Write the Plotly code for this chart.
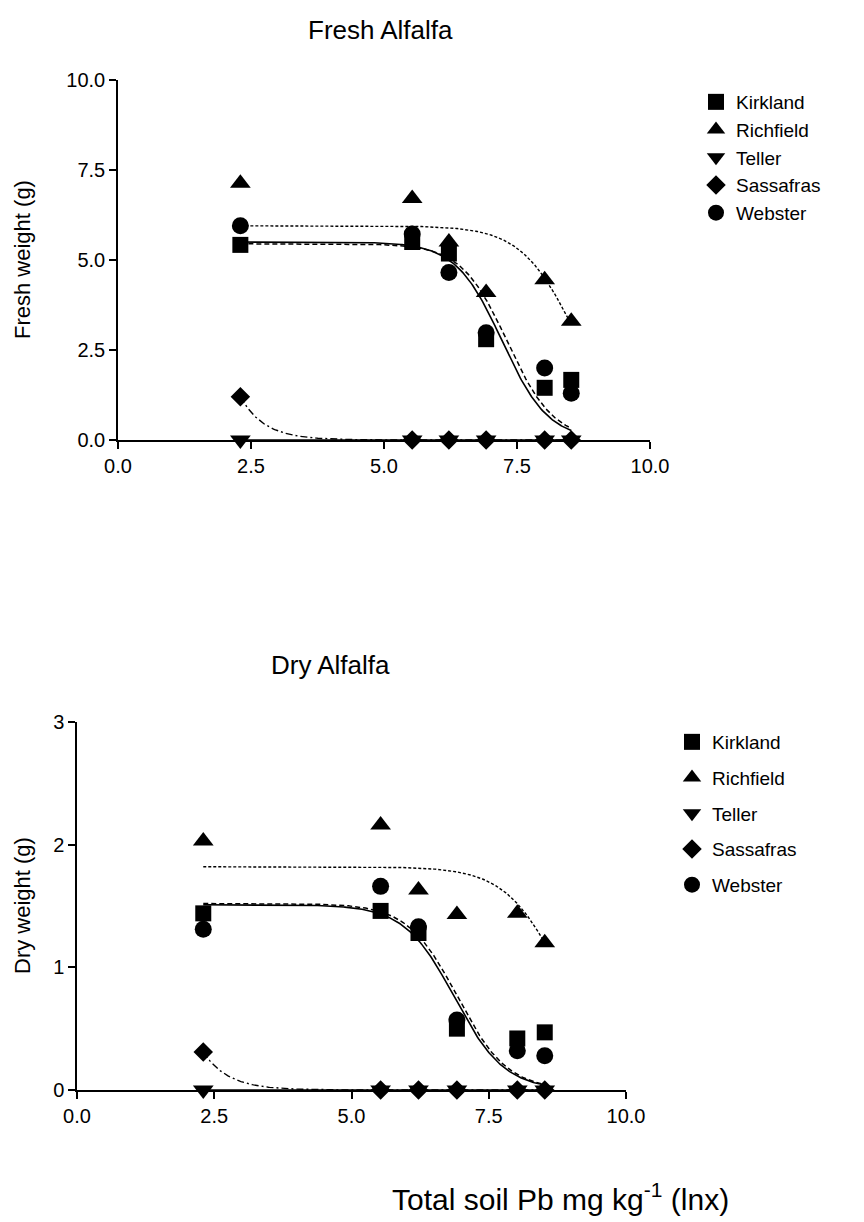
import numpy as np
import plotly.graph_objects as go

# ---------------- data ----------------
soils = ["Kirkland", "Richfield", "Teller", "Sassafras", "Webster"]
x_pb = [2.30, 5.53, 6.22, 6.92, 8.02, 8.52]

fresh_kirkland = [5.42, 5.50, 5.18, 2.80, 1.45, 1.67]
fresh_richfield = [7.13, 6.71, 5.50, 4.10, 4.45, 3.30]
fresh_teller = [0.0, 0.0, 0.0, 0.0, 0.0, 0.0]
fresh_sassafras = [1.20, 0.0, 0.0, 0.0, 0.0, 0.0]
fresh_webster = [5.95, 5.72, 4.65, 2.98, 2.00, 1.30]

dry_kirkland = [1.44, 1.46, 1.28, 0.50, 0.42, 0.47]
dry_richfield = [2.03, 2.16, 1.63, 1.43, 1.44, 1.20]
dry_teller = [0.0, 0.0, 0.0, 0.0, 0.0, 0.0]
dry_sassafras = [0.31, 0.0, 0.0, 0.0, 0.0, 0.0]
dry_webster = [1.31, 1.66, 1.33, 0.57, 0.32, 0.28]

# fitted sigmoid curve parameters: top, x50, slope
fresh_fit_kirkland = [5.50, 7.22, 2.30]
fresh_fit_webster = [5.45, 7.32, 2.30]
fresh_fit_richfield = [5.95, 8.60, 1.95]
fresh_fit_sassafras = [1.20, 2.20]   # start value, decay rate

dry_fit_kirkland = [1.51, 6.875, 2.19]
dry_fit_webster = [1.52, 6.93, 2.20]
dry_fit_richfield = [1.82, 8.86, 1.93]
dry_fit_sassafras = [0.31, 2.20]

x_ticks = [0.0, 2.5, 5.0, 7.5, 10.0]
x_tick_labels = ["0.0", "2.5", "5.0", "7.5", "10.0"]
fresh_y_ticks = [0.0, 2.5, 5.0, 7.5, 10.0]
fresh_y_labels = ["0.0", "2.5", "5.0", "7.5", "10.0"]
dry_y_ticks = [0, 1, 2, 3]
dry_y_labels = ["0", "1", "2", "3"]

# ---------------- helpers ----------------
xs = np.linspace(x_pb[0], x_pb[-1], 300)


def sigmoid(p):
    top, x50, k = p
    return top / (1.0 + np.exp(k * (xs - x50)))


def decay(p):
    y0, k = p
    return y0 * np.exp(-k * (xs - x_pb[0]))


W, H = 864, 1222
OFF = 8  # default page body margin offsets the figure by 8 px
FONT = "Liberation Sans, Arial, sans-serif"
symbols = {"Kirkland": "square", "Richfield": "triangle-up", "Teller": "triangle-down",
           "Sassafras": "diamond", "Webster": "circle"}
sizes = {"Kirkland": 16, "Richfield": 18, "Teller": 18, "Sassafras": 15, "Webster": 17}

fig = go.Figure()

panels = [
    ("x", "y", "legend",
     {"Kirkland": fresh_kirkland, "Richfield": fresh_richfield, "Teller": fresh_teller,
      "Sassafras": fresh_sassafras, "Webster": fresh_webster},
     fresh_fit_kirkland, fresh_fit_webster, fresh_fit_richfield, fresh_fit_sassafras),
    ("x2", "y2", "legend2",
     {"Kirkland": dry_kirkland, "Richfield": dry_richfield, "Teller": dry_teller,
      "Sassafras": dry_sassafras, "Webster": dry_webster},
     dry_fit_kirkland, dry_fit_webster, dry_fit_richfield, dry_fit_sassafras),
]

for xa, ya, leg, vals, fk, fw, fr, fs in panels:
    line_specs = [
        (sigmoid(fk), "solid", 1.6),
        (sigmoid(fw), "5px,3px", 1.5),
        (sigmoid(fr), "3px,2px", 1.4),
        (decay(fs), "7px,3px,2px,3px", 1.4),
        (np.zeros_like(xs), "solid", 1.6),
    ]
    for yv, dash, w in line_specs:
        fig.add_trace(go.Scatter(x=xs, y=yv, mode="lines", xaxis=xa, yaxis=ya,
                                 line=dict(color="black", width=w, dash=dash),
                                 showlegend=False, hoverinfo="skip", cliponaxis=False))
    for s in soils:
        fig.add_trace(go.Scatter(x=x_pb, y=vals[s], mode="markers", name=s,
                                 xaxis=xa, yaxis=ya, legend=leg, legendgroup=s + leg,
                                 marker=dict(symbol=symbols[s], size=sizes[s], color="black"),
                                 cliponaxis=False))

axis_common = dict(showline=True, linecolor="black", linewidth=1.5, ticks="outside",
                   ticklen=7, tickwidth=1.5, tickcolor="black", showgrid=False,
                   zeroline=False, tickfont=dict(family=FONT, size=20, color="black"),
                   fixedrange=True, automargin=False)


def px_x(a, b):
    return [(a - OFF) / W, (b - OFF) / W]


def px_y(top, bottom):
    return [1 - (bottom - OFF) / H, 1 - (top - OFF) / H]


fig.update_layout(
    width=W, height=H,
    margin=dict(l=0, r=0, t=0, b=0, autoexpand=False),
    paper_bgcolor="white", plot_bgcolor="white",
    font=dict(family=FONT, color="black"),
    xaxis=dict(domain=px_x(118, 650), range=[0, 10], tickvals=x_ticks,
               ticktext=x_tick_labels, anchor="y", **axis_common),
    yaxis=dict(domain=px_y(80, 440), range=[0, 10], tickvals=fresh_y_ticks,
               ticktext=fresh_y_labels, anchor="x", **axis_common),
    xaxis2=dict(domain=px_x(77, 626), range=[0, 10], tickvals=x_ticks,
                ticktext=x_tick_labels, anchor="y2", **axis_common),
    yaxis2=dict(domain=px_y(722, 1090), range=[0, 3], tickvals=dry_y_ticks,
                ticktext=dry_y_labels, anchor="x2", **axis_common),
    legend=dict(x=(696 - OFF) / W, y=1 - (83 - OFF) / H, xanchor="left", yanchor="top",
                bgcolor="rgba(0,0,0,0)", font=dict(family=FONT, size=19),
                tracegroupgap=0, itemclick=False),
    legend2=dict(x=(672 - OFF) / W, y=1 - (723 - OFF) / H, xanchor="left", yanchor="top",
                 bgcolor="rgba(0,0,0,0)", font=dict(family=FONT, size=19),
                 tracegroupgap=8, itemclick=False),
)

texts = [
    ("Fresh Alfalfa", 380, 30, 26, 0),
    ("Dry Alfalfa", 330, 665, 26, 0),
    ("Total soil Pb mg kg<sup>-1</sup> (lnx)", 560, 1197, 30, 0),
    ("Fresh weight (g)", 22, 260, 22, -90),
    ("Dry weight (g)", 22, 906, 22, -90),
]
for t, px, py, fs, ang in texts:
    fig.add_annotation(text=t, x=(px - OFF) / W, y=1 - (py - OFF) / H,
                       xref="paper", yref="paper",
                       xanchor="center", yanchor="middle", showarrow=False,
                       textangle=ang, font=dict(family=FONT, size=fs, color="black"))

fig.write_html("out.html")
